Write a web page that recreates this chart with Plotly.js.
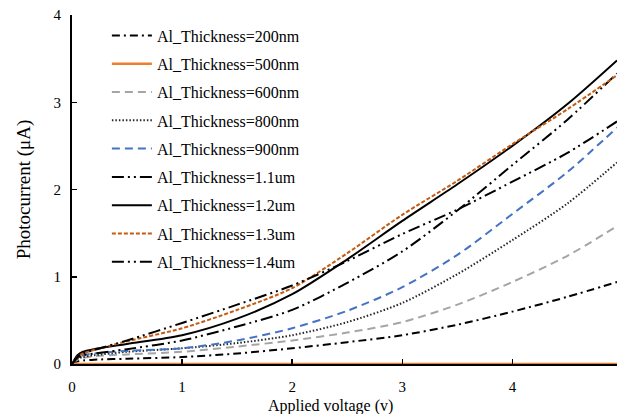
<!DOCTYPE html>
<html>
<head>
<meta charset="utf-8">
<script src="https://cdn.plot.ly/plotly-3.0.1.min.js"></script>
<style>html,body{margin:0;padding:0;background:#fff;}#chart{width:617px;height:414px;}</style>
</head>
<body>
<div id="chart"></div>
<script>
// Applied voltage (V)
const voltage = [0, 0.05, 0.1, 0.2, 0.5, 1, 1.5, 2, 2.5, 3, 3.5, 4, 4.5, 4.95];

// Photocurrent (uA) per Al thickness
const t200nm = [0, 0.03, 0.04, 0.05, 0.06, 0.08, 0.12, 0.18, 0.25, 0.33, 0.45, 0.60, 0.77, 0.94];
const t500nm = [0, 0, 0, 0, 0, 0, 0, 0, 0, 0, 0, 0, 0, 0];
const t600nm = [0, 0.05, 0.07, 0.09, 0.11, 0.14, 0.20, 0.27, 0.36, 0.48, 0.68, 0.94, 1.24, 1.58];
const t800nm = [0, 0.06, 0.08, 0.10, 0.14, 0.18, 0.24, 0.33, 0.48, 0.70, 1.03, 1.42, 1.84, 2.31];
const t900nm = [0, 0.07, 0.10, 0.12, 0.15, 0.18, 0.27, 0.41, 0.61, 0.88, 1.25, 1.72, 2.20, 2.71];
const t1_1um = [0, 0.07, 0.10, 0.12, 0.17, 0.27, 0.43, 0.62, 0.93, 1.29, 1.76, 2.28, 2.80, 3.33];
const t1_2um = [0, 0.10, 0.14, 0.17, 0.23, 0.33, 0.52, 0.80, 1.20, 1.64, 2.06, 2.50, 2.98, 3.48];
const t1_3um = [0, 0.08, 0.12, 0.16, 0.26, 0.41, 0.62, 0.87, 1.27, 1.71, 2.10, 2.52, 2.92, 3.31];
const t1_4um = [0, 0.08, 0.12, 0.16, 0.27, 0.47, 0.68, 0.90, 1.18, 1.49, 1.77, 2.09, 2.42, 2.78];

const seriesNames = ["Al_Thickness=200nm", "Al_Thickness=500nm", "Al_Thickness=600nm",
  "Al_Thickness=800nm", "Al_Thickness=900nm", "Al_Thickness=1.1um",
  "Al_Thickness=1.2um", "Al_Thickness=1.3um", "Al_Thickness=1.4um"];
const seriesValues = [t200nm, t500nm, t600nm, t800nm, t900nm, t1_1um, t1_2um, t1_3um, t1_4um];
const xTicks = [0, 1, 2, 3, 4];
const yTicks = [0, 1, 2, 3, 4];

const styles = [
  {color: "#000000", width: 2, dash: "8px,4px,2px,4px"},
  {color: "#ED7D31", width: 2.5, dash: "solid"},
  {color: "#A5A5A5", width: 2, dash: "8px,5px"},
  {color: "#262626", width: 2, dash: "1.5px,2px"},
  {color: "#4472C4", width: 2, dash: "8px,5px"},
  {color: "#000000", width: 2, dash: "12px,4px,2px,4px,2px,4px"},
  {color: "#000000", width: 2, dash: "solid"},
  {color: "#C55A11", width: 2, dash: "4px,2px"},
  {color: "#000000", width: 2, dash: "12px,4px,2px,4px,2px,4px"}
];

const traces = seriesNames.map((n, i) => ({
  x: voltage, y: seriesValues[i], name: n, type: "scatter", mode: "lines",
  line: Object.assign({shape: "spline", smoothing: 0.8}, styles[i]),
  legendgroup: "g" + i, cliponaxis: i === 1 ? false : true
}));

const serif = "Liberation Serif, Times New Roman, Times, serif";
const layout = {
  width: 617, height: 414,
  margin: {l: 72, r: 0, t: 15, b: 50},
  paper_bgcolor: "#fff", plot_bgcolor: "#fff",
  font: {family: serif, size: 15, color: "#000"},
  showlegend: true,
  legend: {x: 0.064, y: 0.99, xanchor: "left", yanchor: "top", bgcolor: "rgba(0,0,0,0)",
    font: {family: serif, size: 16, color: "#000"}, tracegroupgap: 4.5, itemwidth: 40},
  xaxis: {range: [0, 4.95], tickvals: xTicks, ticks: "inside", ticklen: 5, tickwidth: 1.5,
    tickcolor: "#000", showline: true, linecolor: "#000", linewidth: 1.5, showgrid: false,
    zeroline: false, tickfont: {family: serif, size: 15, color: "#000"}, ticklabelstandoff: 8},
  yaxis: {range: [0, 4], tickvals: yTicks, ticks: "inside", ticklen: 5, tickwidth: 1.5,
    tickcolor: "#000", showline: true, linecolor: "#000", linewidth: 2, showgrid: false,
    zeroline: false, tickfont: {family: serif, size: 15, color: "#000"}, ticklabelstandoff: 6,
    title: {text: "Photocurrent (μA)", font: {family: serif, size: 19, color: "#000"}, standoff: 18}},
  annotations: [{text: "Applied voltage (v)", xref: "paper", yref: "paper", x: (330 - 72) / 545, y: 0,
    yshift: -42, xanchor: "center", yanchor: "middle", showarrow: false,
    font: {family: serif, size: 16, color: "#000"}}]
};

Plotly.newPlot("chart", traces, layout, {displayModeBar: false, staticPlot: true});
</script>
</body>
</html>
